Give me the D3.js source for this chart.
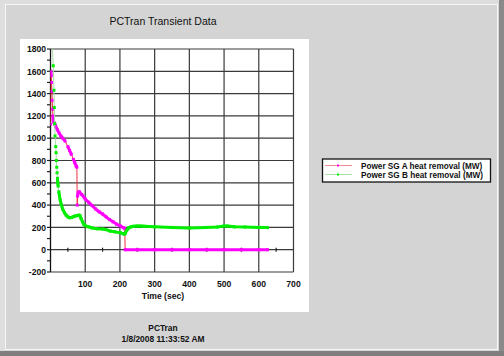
<!DOCTYPE html>
<html><head><meta charset="utf-8">
<script src="https://cdn.jsdelivr.net/npm/d3@7"></script>
<style>
html,body{margin:0;padding:0;background:#d4d4d4;}
svg{display:block;}
text{font-family:"Liberation Sans",Arial,sans-serif;}
</style></head><body>
<script>
const title = "PCTran Transient Data";
const footer = ["PCTran", "1/8/2008 11:33:52 AM"];
const xLabel = "Time (sec)";
const seriesNames = ["Power SG A heat removal (MW)", "Power SG B heat removal (MW)"];
const xTicks = [100, 200, 300, 400, 500, 600, 700];
const yTicks = [-200, 0, 200, 400, 600, 800, 1000, 1200, 1400, 1600, 1800];
const xMinor = [50, 150, 250, 350, 450, 550, 650];
const yMinor = [-100, 100, 300, 500, 700, 900, 1100, 1300, 1500, 1700];

const timeA = [0,1,2,3,4,5,6,7,8,10,13,15,20,25,30,35,42,50,55,60,66,70,74,76,77,78,80,83,90,100,110,120,130,140,150,160,170,180,190,200,210,214,215,250,300,350,400,450,500,550,600,625];
const powerA = [1125,1600,1560,1500,1420,1340,1260,1200,1160,1140,1123,1105,1075,1045,1020,1000,974,925,890,855,810,780,750,740,400,480,515,520,495,455,425,395,365,340,320,295,270,250,230,215,198,188,0,0,0,0,0,0,0,0,0,0];

const timeB = [4,8,10,11,12,13,15,16,17,18,19,20,21,22,24,26,28,31,35,40,45,50,55,60,65,70,76,82,85,88,92,96,100,110,120,134,150,160,172,185,201,210,213,216,220,225,232,240,250,260,270,300,350,400,450,480,500,510,530,560,600,625];
const powerB = [1900,1650,1430,1275,1130,1020,925,870,800,740,690,640,600,570,520,480,445,405,365,332,310,295,287,288,295,302,305,310,305,280,250,228,215,205,195,188,185,180,167,160,152,143,140,150,175,195,205,210,212,212,210,205,200,195,200,203,212,212,205,203,200,198];

const W = 504, H = 356;
const svg = d3.select("body").append("svg").attr("width", W).attr("height", H);

// frame
svg.append("rect").attr("x",0).attr("y",0).attr("width",W).attr("height",H).attr("fill","#d4d4d4");
svg.append("rect").attr("x",0).attr("y",0).attr("width",W).attr("height",4).attr("fill","#dedede");
svg.append("rect").attr("x",0).attr("y",0).attr("width",5).attr("height",H).attr("fill","#dedede");
svg.append("rect").attr("x",5.5).attr("y",4.5).attr("width",492).attr("height",345).attr("fill","none").attr("stroke","#f6f6f6");
svg.append("rect").attr("x",499).attr("y",0).attr("width",5).attr("height",H).attr("fill","#8a8a8a");
svg.append("rect").attr("x",0).attr("y",351).attr("width",W).attr("height",5).attr("fill","#7e7e7e");

// white panel
svg.append("rect").attr("x",20).attr("y",39).attr("width",289).attr("height",273).attr("fill","#ffffff");

svg.append("text").attr("x",163).attr("y",25).attr("text-anchor","middle")
  .attr("font-size","10.5px").attr("fill","#111").text(title);

const x = d3.scaleLinear().domain([0,700]).range([50.5,293.5]);
const y = d3.scaleLinear().domain([-200,1800]).range([272,49]);

const g = svg.append("g");
// grid
g.selectAll(".vg").data(xTicks).join("line")
  .attr("x1",d=>x(d)).attr("x2",d=>x(d)).attr("y1",y(1800)).attr("y2",y(-200))
  .attr("stroke","#3a3a3a").attr("stroke-width",1.2);
g.selectAll(".hg").data(yTicks).join("line")
  .attr("x1",x(0)).attr("x2",x(700)).attr("y1",d=>y(d)).attr("y2",d=>y(d))
  .attr("stroke","#3a3a3a").attr("stroke-width",1.2);
// y axis line
g.append("line").attr("x1",x(0)).attr("x2",x(0)).attr("y1",y(1800)).attr("y2",y(-200))
  .attr("stroke","#111").attr("stroke-width",1.3);
// minor ticks
g.selectAll(".ym").data(yMinor).join("line")
  .attr("x1",x(0)-3.5).attr("x2",x(0)).attr("y1",d=>y(d)).attr("y2",d=>y(d))
  .attr("stroke","#222").attr("stroke-width",1.2);
g.selectAll(".yM").data(yTicks).join("line")
  .attr("x1",x(0)-3.5).attr("x2",x(0)).attr("y1",d=>y(d)).attr("y2",d=>y(d))
  .attr("stroke","#222").attr("stroke-width",1.2);
g.selectAll(".xm").data(xMinor).join("line")
  .attr("x1",d=>x(d)).attr("x2",d=>x(d)).attr("y1",y(0)-2).attr("y2",y(0)+2)
  .attr("stroke","#222").attr("stroke-width",1.2);

// labels
g.selectAll(".yl").data(yTicks).join("text")
  .attr("x",46).attr("y",d=>y(d)+3.2).attr("text-anchor","end")
  .attr("font-size","8.6px").attr("font-weight","bold").attr("fill","#111").text(d=>d);
g.selectAll(".xl").data(xTicks).join("text")
  .attr("x",d=>x(d)).attr("y",287).attr("text-anchor","middle")
  .attr("font-size","8.6px").attr("font-weight","bold").attr("fill","#111").text(d=>d);
svg.append("text").attr("x",163).attr("y",299).attr("text-anchor","middle")
  .attr("font-size","8.6px").attr("font-weight","bold").attr("fill","#111").text(xLabel);

// clip
svg.append("clipPath").attr("id","pc").append("rect")
  .attr("x",x(0)).attr("y",y(1800)).attr("width",x(700)-x(0)).attr("height",y(-200)-y(1800));
const plot = svg.append("g").attr("clip-path","url(#pc)");

function drawSeries(ts, vs, lineColor, markColor){
  const pts = ts.map((t,i)=>[x(t), y(vs[i])]);
  plot.append("path").attr("d", d3.line()(pts)).attr("fill","none")
    .attr("stroke",lineColor).attr("stroke-width",1);
  // continuous (densely sampled) stretches appear as a thick marker band
  let seg = [];
  const segs = [];
  for(let i=0;i<pts.length;i++){
    if(i>0 && Math.abs(pts[i][1]-pts[i-1][1]) > 5){
      if(seg.length>1) segs.push(seg);
      seg = [];
    }
    seg.push(pts[i]);
  }
  if(seg.length>1) segs.push(seg);
  segs.forEach(s=>{
    plot.append("path").attr("d", d3.line()(s)).attr("fill","none")
      .attr("stroke",markColor).attr("stroke-width",3).attr("stroke-linejoin","round");
  });
  plot.selectAll(null).data(pts).join("rect")
    .attr("x",d=>d[0]-1.5).attr("y",d=>d[1]-1.5).attr("width",3).attr("height",3)
    .attr("fill",markColor);
}
drawSeries(timeA, powerA, "#f03040", "#ff00ff");
drawSeries(timeB, powerB, "#a8dca8", "#00ee00");

// legend
const lg = svg.append("g");
lg.append("rect").attr("x",322.5).attr("y",159).attr("width",168).attr("height",23)
  .attr("fill","#fff").attr("stroke","#111").attr("stroke-width",1.3);
const legCols = [["#f48a96","#ff00ff"],["#a8e0a8","#00ee00"]];
seriesNames.forEach((n,i)=>{
  const yy = 165.5 + i*9;
  lg.append("line").attr("x1",325).attr("x2",352).attr("y1",yy).attr("y2",yy)
    .attr("stroke",legCols[i][0]).attr("stroke-width",1);
  lg.append("rect").attr("x",337).attr("y",yy-1).attr("width",2).attr("height",2).attr("fill",legCols[i][1]);
  lg.append("text").attr("x",361).attr("y",yy+3).attr("font-size","8.2px")
    .attr("font-weight","bold").attr("fill","#111").text(n);
});

// footer
footer.forEach((f,i)=>{
  svg.append("text").attr("x",163).attr("y",331+i*10.5).attr("text-anchor","middle")
    .attr("font-size","8.4px").attr("font-weight","bold").attr("fill","#111").text(f);
});
</script>
</body></html>
